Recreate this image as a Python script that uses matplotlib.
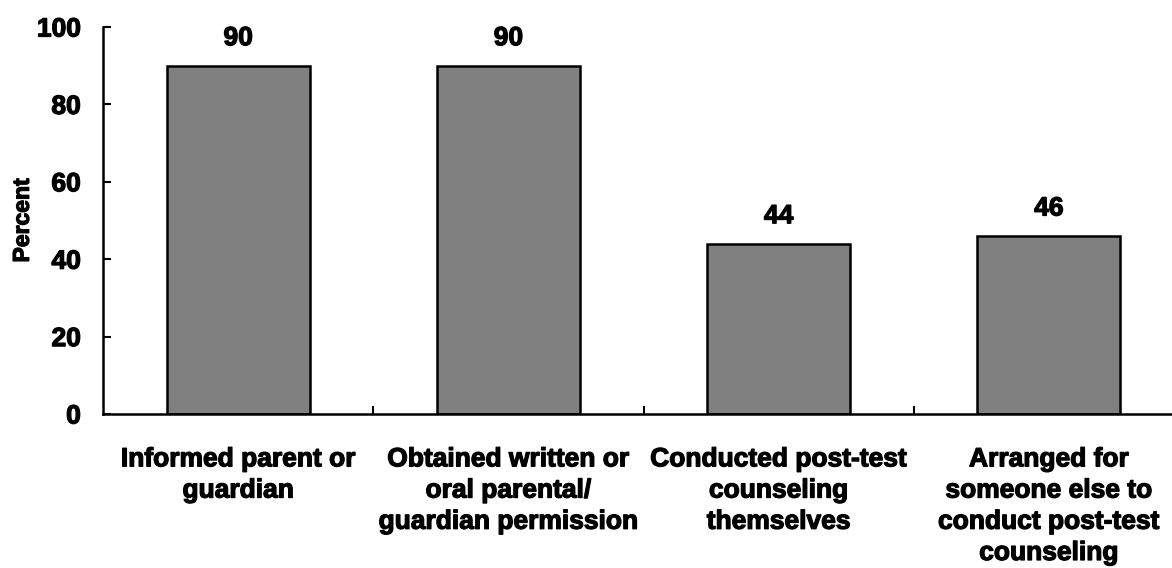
import numpy as np
import matplotlib.pyplot as plt
import matplotlib.patheffects as pe

categories = ['Informed parent or\nguardian',
              'Obtained written or\noral parental/\nguardian permission',
              'Conducted post-test\ncounseling\nthemselves',
              'Arranged for\nsomeone else to\nconduct post-test\ncounseling']
values = [90, 90, 44, 46]
y_ticks = [0, 20, 40, 60, 80, 100]

plt.rcParams['font.family'] = ['Liberation Sans', 'DejaVu Sans']
plt.rcParams['font.weight'] = 'bold'

# lekkie pogrubienie napisów
heavy = [pe.withStroke(linewidth=0.9, foreground='black')]

fig = plt.figure(figsize=(11.72, 5.68), dpi=100)
ax = fig.add_axes([103 / 1172, 1 - 414 / 568, 1081 / 1172, 387 / 568])

x = np.arange(len(values))
bars = ax.bar(x, values, width=0.53, color='#808080', edgecolor='black', linewidth=1.8)

# liczby nad słupkami
for xi, v in zip(x, values):
    ax.text(xi, v + 4, str(v), ha='center', va='bottom', fontsize=19,
            fontweight='bold', path_effects=heavy)

ax.set_xlim(-0.5, 3.5)
ax.set_ylim(0, 100)
ax.set_yticks(y_ticks)
ax.tick_params(axis='y', direction='in', length=6, width=1.5, labelsize=19, pad=16)

# etykiety kategorii bez kresek, kreski na granicach kategorii
ax.set_xticks(x)
ax.set_xticklabels(categories, fontsize=19, fontweight='bold', linespacing=1.38)
ax.tick_params(axis='x', length=0, pad=24)
ax.set_xticks(np.arange(0.5, 3.5, 1), minor=True)
ax.tick_params(axis='x', which='minor', direction='in', length=6, width=1.5)

for lbl in ax.get_xticklabels() + ax.get_yticklabels():
    lbl.set_path_effects(heavy)

ax.set_ylabel('Percent', fontsize=16.5, fontweight='bold', path_effects=heavy)
ax.yaxis.set_label_coords(-0.064, 0.5)

for side in ['top', 'right']:
    ax.spines[side].set_visible(False)
for side in ['left', 'bottom']:
    ax.spines[side].set_linewidth(1.8)

fig.savefig('out.png', dpi=100)
